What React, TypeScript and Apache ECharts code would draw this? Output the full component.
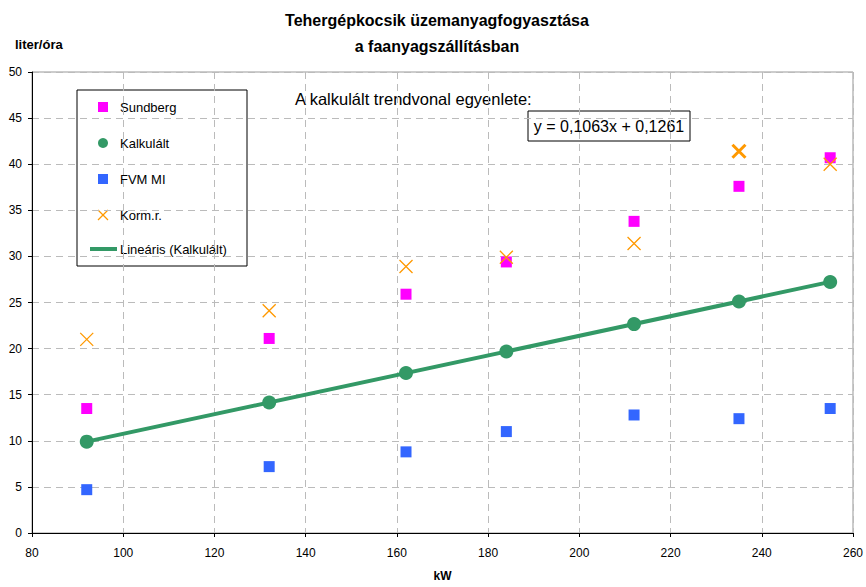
import React, { useEffect, useRef } from "react";
import * as echarts from "echarts";

// Engine power (kW) of the measured trucks
const powerKw = [92, 132, 162, 184, 212, 235, 255];

// Fuel use, litres per hour
const sundberg = [13.5, 21.1, 25.9, 29.4, 33.8, 37.6, 40.7];
const kalkulalt = [9.91, 14.16, 17.35, 19.68, 22.66, 25.11, 27.23];
const fvmMi = [4.7, 7.2, 8.8, 11.0, 12.8, 12.4, 13.5];
const kormR = [21.0, 24.1, 28.9, 29.9, 31.4, 41.4, 40.0];

// Linear trend of the calculated series
const trendSlope = 0.1063;
const trendIntercept = 0.1261;
const trendLabel = "y = 0,1063x + 0,1261";

const xTicks = { min: 80, max: 260, interval: 20 };
const yTicks = { min: 0, max: 50, interval: 5 };

const FONT = "'Liberation Sans', Arial, sans-serif";
const MAGENTA = "#FF00FF";
const GREEN = "#339966";
const BLUE = "#3366FF";
const ORANGE = "#FF9900";
const CROSS = "path://M0,0L10,10M10,0L0,10";

const pairs = (ys: number[]) => powerKw.map((x, i) => [x, ys[i]]);

export default function App() {
  const ref = useRef<HTMLDivElement>(null);

  useEffect(() => {
    if (!ref.current) return;
    const chart = echarts.init(ref.current, null, { renderer: "svg" });
    const x0 = powerKw[0];
    const x1 = powerKw[powerKw.length - 1];
    const trend = [
      [x0, trendSlope * x0 + trendIntercept],
      [x1, trendSlope * x1 + trendIntercept],
    ];

    // the 235 kW cross is drawn with a heavier stroke
    const kormData = pairs(kormR).map((p, i) =>
      i === 5 ? { value: p, itemStyle: { borderWidth: 3 } } : p
    );

    // boxed legend
    const lx = 77, ly = 90, rowY = [107, 143, 179, 215, 249];
    const labels = ["Sundberg", "Kalkulált", "FVM MI", "Korm.r.", "Lineáris (Kalkulált)"];
    const legendItems: any[] = [
      { type: "rect", shape: { x: lx, y: ly, width: 170, height: 176 }, style: { fill: "#fff", stroke: "#000", lineWidth: 1 } },
      { type: "rect", shape: { x: 98, y: rowY[0] - 5, width: 10, height: 10 }, style: { fill: MAGENTA } },
      { type: "circle", shape: { cx: 103, cy: rowY[1], r: 5 }, style: { fill: GREEN } },
      { type: "rect", shape: { x: 98, y: rowY[2] - 5, width: 10, height: 10 }, style: { fill: BLUE } },
      { type: "line", shape: { x1: 98, y1: rowY[3] - 5, x2: 108, y2: rowY[3] + 5 }, style: { stroke: ORANGE, lineWidth: 1.2 } },
      { type: "line", shape: { x1: 108, y1: rowY[3] - 5, x2: 98, y2: rowY[3] + 5 }, style: { stroke: ORANGE, lineWidth: 1.2 } },
      { type: "line", shape: { x1: 90, y1: rowY[4], x2: 117, y2: rowY[4] }, style: { stroke: GREEN, lineWidth: 4 } },
      ...labels.map((t, i) => ({
        type: "text",
        style: { x: 120, y: rowY[i], text: t, fill: "#000", font: `13px ${FONT}`, verticalAlign: "middle" },
      })),
    ];

    chart.setOption({
      animation: false,
      backgroundColor: "#fff",
      textStyle: { fontFamily: FONT },
      grid: { left: 32, right: 13, top: 72, bottom: 49, show: true, borderColor: "#999", borderWidth: 1 },
      xAxis: {
        type: "value",
        ...xTicks,
        name: "kW",
        nameLocation: "middle",
        nameGap: 37,
        nameTextStyle: { fontSize: 12, fontWeight: "bold", color: "#000" },
        axisLine: { show: true, lineStyle: { color: "#000", width: 1 } },
        axisTick: { show: true, length: 4, lineStyle: { color: "#000" } },
        axisLabel: { fontSize: 12, color: "#000", margin: 14 },
        splitLine: { show: true, lineStyle: { color: "#bbb", type: [7, 5] } },
      },
      yAxis: {
        type: "value",
        ...yTicks,
        axisLine: { show: true, lineStyle: { color: "#000", width: 1 } },
        axisTick: { show: true, length: 4, lineStyle: { color: "#000" } },
        axisLabel: { fontSize: 12, color: "#000", margin: 10 },
        splitLine: { show: true, lineStyle: { color: "#bbb", type: [7, 5] } },
      },
      series: [
        {
          name: "Lineáris (Kalkulált)",
          type: "line",
          data: trend,
          showSymbol: false,
          lineStyle: { color: GREEN, width: 4 },
          z: 2,
        },
        {
          name: "Kalkulált",
          type: "scatter",
          data: pairs(kalkulalt),
          symbol: "circle",
          symbolSize: 14,
          itemStyle: { color: GREEN, opacity: 1 },
          z: 3,
        },
        {
          name: "Sundberg",
          type: "scatter",
          data: pairs(sundberg),
          symbol: "rect",
          symbolSize: 11,
          itemStyle: { color: MAGENTA, opacity: 1 },
          z: 3,
        },
        {
          name: "FVM MI",
          type: "scatter",
          data: pairs(fvmMi),
          symbol: "rect",
          symbolSize: 11,
          itemStyle: { color: BLUE, opacity: 1 },
          z: 3,
        },
        {
          name: "Korm.r.",
          type: "scatter",
          data: kormData,
          symbol: CROSS,
          symbolSize: 13,
          itemStyle: { color: "none", borderColor: ORANGE, borderWidth: 1.3, opacity: 1 },
          z: 4,
        },
      ],
      graphic: [
        {
          type: "text",
          style: {
            x: 437, y: 20, text: "Tehergépkocsik üzemanyagfogyasztása", fill: "#000",
            font: `bold 16px ${FONT}`, align: "center", verticalAlign: "middle",
          },
        },
        {
          type: "text",
          style: {
            x: 437, y: 46, text: "a faanyagszállításban", fill: "#000",
            font: `bold 16px ${FONT}`, align: "center", verticalAlign: "middle",
          },
        },
        {
          type: "text",
          style: { x: 15, y: 44, text: "liter/óra", fill: "#000", font: `bold 13px ${FONT}`, verticalAlign: "middle" },
        },
        ...legendItems,
        {
          type: "text",
          style: { x: 295, y: 99, text: "A kalkulált trendvonal egyenlete:", fill: "#000", font: `16.5px ${FONT}`, verticalAlign: "middle" },
        },
        {
          type: "rect",
          shape: { x: 528, y: 111, width: 162, height: 30 },
          style: { fill: "#fff", stroke: "#000", lineWidth: 1 },
        },
        {
          type: "text",
          style: { x: 609, y: 126, text: trendLabel, fill: "#000", font: `16px ${FONT}`, align: "center", verticalAlign: "middle" },
        },
      ],
    });

    return () => chart.dispose();
  }, []);

  return <div ref={ref} style={{ width: 866, height: 587, position: "absolute", left: 0, top: 0 }} />;
}
